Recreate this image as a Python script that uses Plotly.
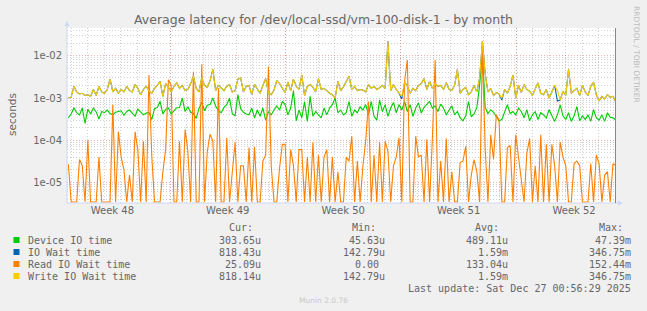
import pandas as pd
import plotly.graph_objects as go

# ---------------- data ----------------
t_start = "2025-11-23 20:00"
t_end = "2025-12-27 00:40"

device_io_us = [
    340, 420, 590, 450, 400, 580, 250, 540, 420, 580,
    470, 320, 480, 450, 520, 430, 400, 460, 480, 500,
    390, 480, 520, 440, 370, 550, 480, 400, 440, 460,
    310, 560, 600, 830, 420, 540, 580, 420, 500, 590,
    600, 1000, 480, 620, 460, 430, 330, 560, 800, 500,
    680, 700, 1000, 650, 500, 450, 600, 700, 1000, 420,
    380, 1200, 560, 460, 420,
    400, 580, 340, 520, 370, 580, 300, 480, 400, 520,
    650, 520, 830, 700, 400, 580, 1500, 290, 520, 340,
    820, 280, 1100, 370, 480, 400, 340, 580, 400, 580,
    700, 1000, 450, 520, 400, 450, 830, 370, 520, 450,
    620, 520, 700, 400, 830, 370, 300, 900, 480, 700,
    370, 580, 780, 450, 700, 520, 830,
    480, 700, 370, 580, 760, 440, 600, 700,
    830, 580, 650, 480, 720, 580, 400, 520, 650, 400,
    480, 340, 290, 380, 830, 360, 420, 600, 2000, 12000,
    600, 430, 530, 460, 360, 290, 310, 480, 700, 430,
    480, 400, 580, 480, 340, 530, 290, 400, 480, 310,
    450, 400, 340, 530, 380, 280, 400, 690, 380, 310,
    450, 280, 380, 630, 290, 380, 310, 400, 280, 530,
    340, 300, 400, 280, 450, 350, 340, 300,
]

write_wait_us = [
    1000, 1050, 1900, 1400, 1250, 1300, 1150, 1200, 1100, 1600,
    1150, 1900, 1400, 1300, 1600, 2800, 1400, 1700, 1300, 1600,
    1400, 1900, 1500, 1400, 2100, 1700, 1200, 1600, 1900, 1500,
    1300, 1700, 2000, 2500, 1100, 2200, 1800, 1400, 1900, 2300,
    1700, 2000, 1500, 1600, 2200, 3300, 1700, 1400, 3000, 2000,
    1800, 2600, 4800, 1500, 2000, 1700, 1500, 1900, 2100, 1400,
    1500, 2800, 3000, 1400, 1900,
    2000, 1200, 2100, 1600, 1300, 2000, 2900, 1350, 1200, 1550,
    2600, 2200, 1700, 1350, 2400, 1500, 2800, 1900, 1600, 3500,
    1150, 1900, 2100, 1800, 1400, 2900, 1600, 1700, 1500, 1300,
    1200, 1000, 2500, 1500, 1850, 2400, 3300, 1600, 1900, 1500,
    1600, 1550, 1400, 2100, 1700, 1900, 1600, 1750, 2000, 1700,
    22000, 1500, 2100, 1600, 1300, 1100, 2400, 1900, 1300, 1700,
    1500, 2000, 2200, 2900, 1600, 2500,
    1700, 2200, 1900, 2000, 1600, 2300, 1600, 1500, 2000, 4800,
    1300, 1600, 1800, 1200, 1400, 2000, 1400, 3000, 22000, 3800,
    1400, 1700, 1150, 1350, 1250, 1000, 1600, 1300, 1900, 3500,
    1000, 2000, 1350, 2100, 1600, 1450, 1150, 1650, 2300, 1300,
    1200, 1600, 1000, 1400, 2000, 1500, 900, 1450, 1150, 4800,
    1300, 1500, 1700, 1150, 2000, 1400, 1150, 1900, 2400, 1200,
    850, 1100, 950, 1200, 1050, 1100, 820,
]

# IO wait coincides with write wait except where the blue line peeks out
io_wait_us = list(write_wait_us)
io_wait_us[120] = 950
io_wait_us[156] = 900
io_wait_us[176] = 850

read_wait_us = [
    27, 0, 0, 0, 35, 25, 0, 100, 0, 0,
    0, 40, 0, 0, 0, 0, 700, 0, 160, 40,
    20, 0, 15, 0, 160, 60, 0, 95, 0, 3500,
    45, 0, 0, 0, 18, 60, 2700, 2000, 0, 0,
    95, 0, 180, 55, 0, 4200, 0, 0, 6300, 0,
    55, 140, 95, 0, 1700, 0, 0, 115, 0, 15,
    90, 0, 25, 25, 0, 67, 0, 70, 0, 0,
    32, 45, 5600, 25, 0, 0, 22, 80, 80, 0,
    60, 25, 0, 60, 60, 0, 40, 0, 90, 0,
    45, 0, 40, 60, 0, 40, 0, 18, 0, 0,
    40, 32, 125, 0, 32, 0, 25, 95, 830, 0,
    45, 0, 90, 0, 95, 55, 0, 25, 40, 115,
    0, 2500, 8000, 0, 0, 125, 40, 45, 0, 105,
    0, 110, 8000, 0, 32, 0, 110, 0, 18, 0,
    0, 30, 32, 72, 0, 15, 35, 18, 0, 15000,
    67, 0, 135, 35, 400, 300, 0, 0, 67, 75,
    0, 135, 40, 15, 0, 50, 110, 0, 25, 0,
    135, 0, 80, 0, 80, 25, 0, 90, 40, 25,
    0, 0, 28, 32, 25, 0, 0, 0, 28, 0,
    45, 28, 0, 15, 18, 0, 28, 25,
]

series_names = ["Device IO time", "IO Wait time", "Read IO Wait time", "Write IO Wait time"]
series_colors = ["#00CC00", "#0066B3", "#FF8000", "#FFCC00"]
legend_cur = ["303.65u", "818.43u", "25.09u", "818.14u"]
legend_min = ["45.63u", "142.79u", "0.00", "142.79u"]
legend_avg = ["489.11u", "1.59m", "133.04u", "1.59m"]
legend_max = ["47.39m", "346.75m", "152.44m", "346.75m"]

week_labels = ["Week 48", "Week 49", "Week 50", "Week 51", "Week 52"]
week_centers = ["2025-11-26 12:00", "2025-12-03 12:00", "2025-12-10 12:00",
                "2025-12-17 12:00", "2025-12-24 12:00"]
week_starts = ["2025-11-30", "2025-12-07", "2025-12-14", "2025-12-21"]
y_tick_vals = [1e-5, 1e-4, 1e-3, 1e-2]
y_tick_text = ["1e-05", "1e-04", "1e-03", "1e-02"]

# ---------------- geometry ----------------
W, H = 647, 311
L, R, T, B = 67, 616, 28, 203
PW, PH = R - L, B - T
range_start = "2025-11-23 18:00"
range_end = "2025-12-27 01:00"
Y_RANGE = [-5.486, -1.34]
ZERO_FLOOR = 3.45e-6  # zero drawn on the bottom edge, as rrdtool does

def px(x):
    return (x - L) / PW

def py(y):
    return (B - y) / PH

times = pd.date_range(start=t_start, end=t_end, periods=len(device_io_us))

fig = go.Figure()
all_series = [device_io_us, io_wait_us, read_wait_us, write_wait_us]
for name, color, vals in zip(series_names, series_colors, all_series):
    yv = [v * 1e-6 if v > 0 else ZERO_FLOOR for v in vals]
    fig.add_trace(go.Scatter(x=times, y=yv, mode="lines", name=name,
                             line=dict(color=color, width=1.1),
                             showlegend=False, hoverinfo="skip"))

# dummy trace to carry xaxis2 (week labels)
fig.add_trace(go.Scatter(x=[range_start], y=[1e-3], xaxis="x2", mode="markers",
                         marker=dict(opacity=0), showlegend=False, hoverinfo="skip"))

minor_y = [m * 10.0 ** e for e in range(-6, -1) for m in range(2, 10)]

TXT = "#666666"
MAJ = "rgba(225,110,110,0.55)"
MIN = "rgba(150,150,150,0.45)"
DASH = "1px,2px"
fig.update_layout(
    width=W, height=H,
    margin=dict(l=L, r=W - R, t=T, b=H - B, pad=0),
    paper_bgcolor="#F0F0F0", plot_bgcolor="#FFFFFF",
    font=dict(family="DejaVu Sans", size=10, color=TXT),
    xaxis=dict(type="date", range=[range_start, range_end],
               tickmode="array", tickvals=week_starts, showticklabels=False,
               showgrid=True, gridcolor=MAJ, griddash=DASH, gridwidth=1,
               ticks="", zeroline=False, showline=False,
               minor=dict(dtick=86400000, tick0="2025-11-23", showgrid=True,
                          gridcolor=MIN, griddash=DASH, gridwidth=1)),
    xaxis2=dict(type="date", range=[range_start, range_end], overlaying="x", anchor="y",
                side="bottom", tickmode="array", tickvals=week_centers, ticktext=week_labels,
                showgrid=False, zeroline=False, showline=False, ticks="",
                tickfont=dict(family="DejaVu Sans", size=10, color=TXT)),
    yaxis=dict(type="log", range=Y_RANGE, tickmode="array", tickvals=y_tick_vals,
               ticktext=y_tick_text, showgrid=True, gridcolor=MAJ,
               griddash=DASH, gridwidth=1, zeroline=False, showline=False, ticks="",
               ticklabelstandoff=4,
               tickfont=dict(family="DejaVu Sans", size=10, color=TXT),
               minor=dict(tickmode="array", tickvals=minor_y, showgrid=True,
                          gridcolor=MIN, griddash=DASH, gridwidth=1)),
)

AX = "#CFD6F8"
shapes = [
    # axes
    dict(type="line", xref="paper", yref="paper", x0=px(L), x1=px(619), y0=py(B), y1=py(B),
         line=dict(color=AX, width=1)),
    dict(type="line", xref="paper", yref="paper", x0=px(L), x1=px(L), y0=py(B), y1=py(25),
         line=dict(color=AX, width=1)),
    # arrows
    dict(type="path", xref="paper", yref="paper",
         path=f"M {px(618)} {py(200.5)} L {px(623)} {py(203)} L {px(618)} {py(205.5)} Z",
         fillcolor=AX, line=dict(color=AX, width=0)),
    dict(type="path", xref="paper", yref="paper",
         path=f"M {px(64.5)} {py(26)} L {px(67)} {py(21)} L {px(69.5)} {py(26)} Z",
         fillcolor=AX, line=dict(color=AX, width=0)),
    # right edge line
    dict(type="line", xref="paper", yref="paper", x0=px(615.5), x1=px(615.5), y0=py(B), y1=py(T),
         line=dict(color="#888888", width=1)),
]

MONO = "DejaVu Sans Mono"
ann = []
def text(x, y, s, size=10, color=TXT, family=MONO, xanchor="left", angle=0):
    ann.append(dict(x=px(x), y=py(y), xref="paper", yref="paper", text=s, showarrow=False,
                    xanchor=xanchor, yanchor="middle", textangle=angle,
                    font=dict(family=family, size=size, color=color)))

text(323, 19, "Average latency for /dev/local-ssd/vm-100-disk-1 - by month",
     size=12.5, family="DejaVu Sans", xanchor="center")
text(12, 115, "seconds", size=10.5, family="DejaVu Sans", xanchor="center", angle=-90)
text(637, 54, "RRDTOOL / TOBI OETIKER", size=7.5, color="#BBBBBB",
     family="DejaVu Sans", xanchor="center", angle=90)

text(227, 227.5, "Cur:")
text(350, 227.5, "Min:")
text(473, 227.5, "Avg:")
text(597, 227.5, "Max:")

row_y = [240, 252, 264, 276]
for i, name in enumerate(series_names):
    y = row_y[i]
    shapes.append(dict(type="rect", xref="paper", yref="paper",
                       x0=px(13.5), x1=px(19.5), y0=py(y - 3), y1=py(y + 3),
                       fillcolor=series_colors[i], line=dict(width=0)))
    text(26, y, name)
    for col, right in ((legend_cur, 263), (legend_min, 387), (legend_avg, 510), (legend_max, 633)):
        s = col[i]
        r = right if s[-1].isalpha() else right - 6
        text(r, y, s, xanchor="right")

text(633, 288, "Last update: Sat Dec 27 00:56:29 2025", xanchor="right")
text(323, 300.5, "Munin 2.0.76", size=7.5, color="#C8C8C8", family="DejaVu Sans",
     xanchor="center")

fig.update_layout(shapes=shapes, annotations=ann)
fig.write_html("out.html")
